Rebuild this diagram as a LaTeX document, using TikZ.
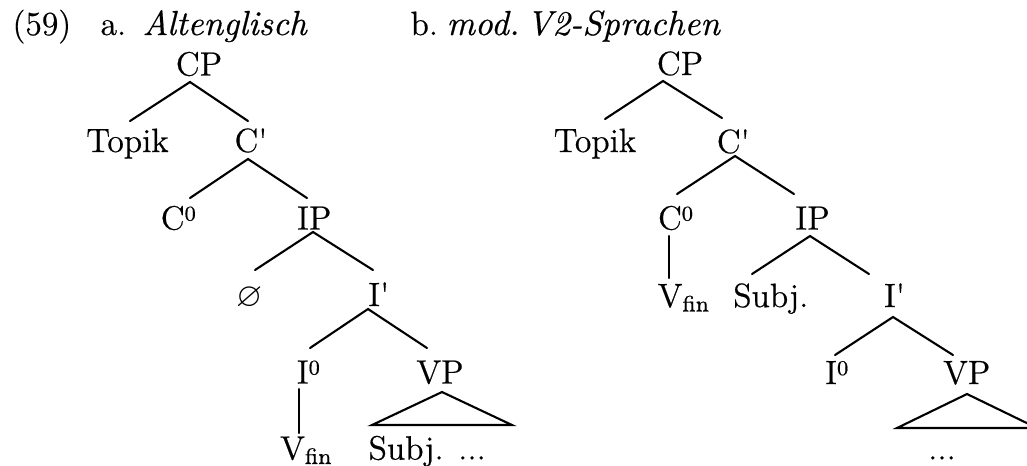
\documentclass[tikz,border=0pt]{standalone}
\usepackage{amssymb}
\usepackage{fontspec}
\setmainfont{lmroman12-regular.otf}[
  ItalicFont=lmroman10-italic.otf,
  FakeBold=0.5]
\newfontfamily\smallrm{lmroman8-regular.otf}[FakeBold=0.5]
\tikzset{
  lbl/.style={anchor=base, inner sep=0pt, font=\fontsize{12}{14}\selectfont},
  lblw/.style={anchor=base west, inner sep=0pt, font=\fontsize{12}{14}\selectfont},
  head/.style={anchor=base west, inner sep=0pt, font=\fontsize{12.4}{14}\selectfont\itshape},
  branch/.style={line width=0.75pt, line cap=round, line join=miter},
}
\newcommand{\zero}{\raisebox{3.2pt}{\smallrm\fontsize{7.5}{8}\selectfont 0}}
\newcommand{\fin}{\raisebox{-1.6pt}{\smallrm\fontsize{8}{9}\selectfont fin}}
\newcommand{\prm}{\textquotesingle}
\begin{document}
\begin{tikzpicture}[x=0.3565pt, y=-0.3565pt]
\useasboundingbox (0,0) rectangle (1027,465);

% example heading
\node[lblw] (num)  at (12,35)  {(59)};
\node[lblw] (la)   at (100,35) {a.};
\node[head] (ta)   at (142,35) {Altenglisch};
\node[lblw] (lb)   at (410,35) {b.};
\node[head] (tb)   at (446,35) {mod.\hspace{0.2em}V2-Sprachen};

% ---------- tree a: Old English ----------
\node[lbl] (cpA)    at (199,75.5)   {CP};
\node[lbl] (topA)   at (127.5,152)  {Topik};
\node[lbl] (cbA)    at (251,152)    {C\prm};
\node[lbl] (c0A)    at (178.3,229.5){C\zero};
\node[lbl] (ipA)    at (314.2,229.5){IP};
\node[lbl] (nullA)  at (249.3,306)  {$\varnothing$};
\node[lbl] (ibA)    at (378.8,306)  {I\prm};
\node[lbl] (i0A)    at (308.3,383.5){I\zero};
\node[lbl] (vpA)    at (440,383.5)  {VP};
\node[lbl] (vfA)    at (305.8,459.5){V\fin};
\node[lbl] (subA)   at (427.2,459.5){Subj. ...};

\coordinate (cpA-t)  at (190,82);
\coordinate (topA-t) at (130,121);
\coordinate (cbA-t)  at (248,121);
\coordinate (cbA-b)  at (248,159);
\coordinate (c0A-t)  at (190,198);
\coordinate (ipA-t)  at (307,198);
\coordinate (ipA-b)  at (313,232);
\coordinate (nullA-t) at (255,270);
\coordinate (ibA-t)  at (373,270);
\coordinate (ibA-b)  at (368,309);
\coordinate (i0A-t)  at (310,348);
\coordinate (vpA-t)  at (427,348);
\coordinate (i0A-b)  at (299,389);
\coordinate (vfA-t)  at (299,433);
\coordinate (vpA-b)  at (442,392);
\coordinate (triA-l) at (372,425);
\coordinate (triA-r) at (512,425);

\draw[branch] (topA-t) -- (cpA-t) -- (cbA-t);
\draw[branch] (c0A-t) -- (cbA-b) -- (ipA-t);
\draw[branch] (nullA-t) -- (ipA-b) -- (ibA-t);
\draw[branch] (i0A-t) -- (ibA-b) -- (vpA-t);
\draw[branch] (i0A-b) -- (vfA-t);
\draw[branch] (triA-l) -- (vpA-b) -- (triA-r) -- cycle;

% ---------- tree b: modern V2 languages ----------
\node[lbl] (cpB)    at (680,75)     {CP};
\node[lbl] (topB)   at (595,152)    {Topik};
\node[lbl] (cbB)    at (733.3,153)  {C\prm};
\node[lbl] (c0B)    at (675.5,229.5){C\zero};
\node[lbl] (ipB)    at (812.5,229.5){IP};
\node[lbl] (vfB)    at (683.3,307)  {V\fin};
\node[lbl] (subB)   at (770.8,307)  {Subj.};
\node[lbl] (ibB)    at (894.5,307)  {I\prm};
\node[lbl] (i0B)    at (836.7,384)  {I\zero};
\node[lbl] (vpB)    at (966.7,384)  {VP};
\node[lbl] (dotB)   at (942,459.5)  {...};

\coordinate (cpB-t)  at (663,81);
\coordinate (topB-t) at (605,119);
\coordinate (cbB-t)  at (722,118);
\coordinate (cbB-b)  at (735,156);
\coordinate (c0B-t)  at (677,194);
\coordinate (ipB-t)  at (794,194);
\coordinate (c0B-b)  at (669,236);
\coordinate (vfB-t)  at (669,278);
\coordinate (ipB-b)  at (810,236);
\coordinate (subB-t) at (752,274);
\coordinate (ibB-t)  at (869,274);
\coordinate (ibB-b)  at (893,317);
\coordinate (i0B-t)  at (835,355);
\coordinate (vpB-t)  at (953,355);
\coordinate (vpB-b)  at (967,394);
\coordinate (triB-l) at (897,428);
\coordinate (triB-r) at (1037,428);

\draw[branch] (topB-t) -- (cpB-t) -- (cbB-t);
\draw[branch] (c0B-t) -- (cbB-b) -- (ipB-t);
\draw[branch] (c0B-b) -- (vfB-t);
\draw[branch] (subB-t) -- (ipB-b) -- (ibB-t);
\draw[branch] (i0B-t) -- (ibB-b) -- (vpB-t);
\begin{scope}
  \clip (0,0) rectangle (1027,465);
  \draw[branch] (triB-l) -- (vpB-b) -- (triB-r) -- cycle;
\end{scope}
\end{tikzpicture}
\end{document}
